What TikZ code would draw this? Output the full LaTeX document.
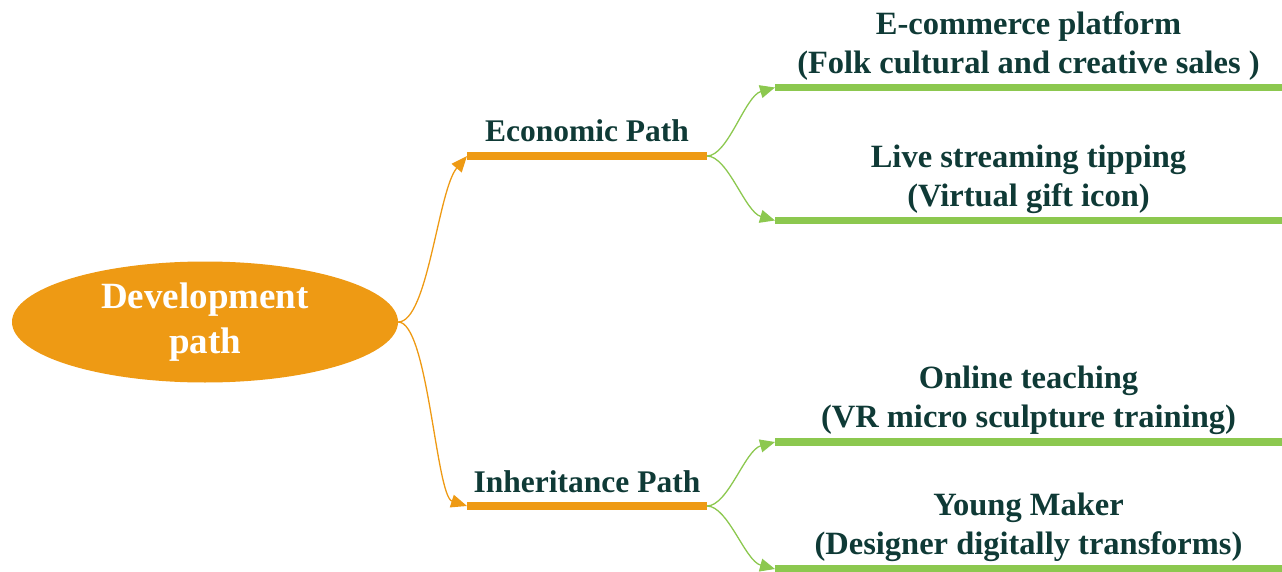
\documentclass[tikz,border=0pt]{standalone}
\usepackage{fontspec}
\setmainfont{Liberation Serif}
\usetikzlibrary{arrows.meta,shapes.geometric,calc}
\definecolor{orng}{HTML}{EE9A14}
\definecolor{grn}{HTML}{8CC84F}
\definecolor{txt}{HTML}{0F3A36}
\tikzset{
  root/.style={ellipse, fill=orng, draw=none, minimum width=386pt, minimum height=121pt,
    inner sep=0pt, text=white, font=\fontsize{37}{45}\selectfont\bfseries, align=center},
  orangebar/.style={draw=orng, line width=7.5pt},
  greenbar/.style={draw=grn, line width=7.5pt},
  orangelink/.style={draw=orng, line width=1.3pt, -{Triangle[length=16pt,width=13pt]}},
  greenlink/.style={draw=grn, line width=1.3pt, -{Triangle[length=15pt,width=13pt]}},
  midlbl/.style={text=txt, font=\fontsize{31.5}{38}\selectfont\bfseries, inner sep=0pt, anchor=base},
  leaflbl/.style={text=txt, font=\fontsize{32.5}{39}\selectfont\bfseries, align=center, inner sep=0pt, anchor=south}
}
\begin{document}
\begin{tikzpicture}[x=1pt,y=-1pt]
\useasboundingbox (0,0) rectangle (1282,572);
% root
\node[root] (root) at (205,322) {Development\\path};
% middle bars
\coordinate (ecoL) at (467,156);
\coordinate (ecoR) at (707,156);
\coordinate (inhL) at (467,506);
\coordinate (inhR) at (707,506);
\draw[orangebar] (ecoL) -- (ecoR);
\draw[orangebar] (inhL) -- (inhR);
\node[midlbl] (ecoT) at ($(ecoL)!0.5!(ecoR)+(0,-14)$) {Economic Path};
\node[midlbl] (inhT) at ($(inhL)!0.5!(inhR)+(0,-14)$) {Inheritance Path};
% leaf bars
\coordinate (l1L) at (775,87.5);  \coordinate (l1R) at (1282,87.5);
\coordinate (l2L) at (775,220.5); \coordinate (l2R) at (1282,220.5);
\coordinate (l3L) at (775,442);   \coordinate (l3R) at (1282,442);
\coordinate (l4L) at (775,569);   \coordinate (l4R) at (1282,569);
\foreach \i in {1,2,3,4} {\draw[greenbar] (l\i L) -- (l\i R);}
\node[leaflbl] (t1) at ($(l1L)!0.5!(l1R)+(0,-7)$) {E-commerce platform\\(Folk cultural and creative sales )};
\node[leaflbl] (t2) at ($(l2L)!0.5!(l2R)+(0,-7)$) {Live streaming tipping\\(Virtual gift icon)};
\node[leaflbl] (t3) at ($(l3L)!0.5!(l3R)+(0,-7)$) {Online teaching\\(VR micro sculpture training)};
\node[leaflbl] (t4) at ($(l4L)!0.5!(l4R)+(0,-7)$) {Young Maker\\(Designer digitally transforms)};
% orange links
\draw[orangelink] (root.east) .. controls (428,322) and (438,190) .. (ecoL);
\draw[orangelink] (root.east) .. controls (428,322) and (436,496) .. (inhL);
% green links
\draw[greenlink] (ecoR) .. controls (728,156) and (745,96) .. (l1L);
\draw[greenlink] (ecoR) .. controls (728,156) and (745,212) .. (l2L);
\draw[greenlink] (inhR) .. controls (728,506) and (745,450) .. (l3L);
\draw[greenlink] (inhR) .. controls (728,506) and (745,561) .. (l4L);
\end{tikzpicture}
\end{document}
